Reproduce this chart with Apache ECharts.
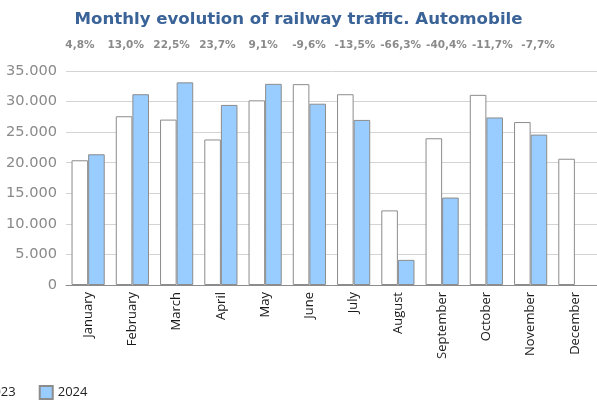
<!DOCTYPE html>
<html>
<head>
<meta charset="utf-8">
<script src="https://cdn.jsdelivr.net/npm/echarts@6/dist/echarts.min.js"></script>
<style>
  html, body { margin: 0; padding: 0; background: #fff; }
  #chart { width: 597px; height: 400px; }
</style>
</head>
<body>
<div id="chart"></div>
<script>
const months = ['January', 'February', 'March', 'April', 'May', 'June', 'July',
  'August', 'September', 'October', 'November', 'December'];
const changes = ['4,8%', '13,0%', '22,5%', '23,7%', '9,1%', '-9,6%', '-13,5%',
  '-66,3%', '-40,4%', '-11,7%', '-7,7%'];
const traffic2023 = [20400, 27600, 27050, 23800, 30200, 32850, 31200, 12200, 24000, 31100, 26650, 20650];
const traffic2024 = [21380, 31200, 33140, 29450, 32900, 29650, 27000, 4110, 14300, 27400, 24600, null];

// 35.000 style thousands
function fmt(v) {
  return String(v).replace(/\B(?=(\d{3})+(?!\d))/g, '.');
}

const chart = echarts.init(document.getElementById('chart'));

chart.setOption({
  animation: false,
  title: {
    text: 'Monthly evolution of railway traffic. Automobile',
    left: 'center',
    top: 6,
    textStyle: {
      fontFamily: 'DejaVu Sans',
      fontWeight: 'bold',
      fontSize: 16.6,
      color: '#3a6398'
    }
  },
  legend: {
    bottom: -5,
    left: -38,
    icon: 'rect',
    itemWidth: 13,
    itemHeight: 13,
    itemGap: 23,
    textStyle: {
      fontFamily: 'Open Sans',
      fontSize: 13,
      color: '#222'
    }
  },
  grid: [
    { left: 66, right: -1, top: 71, bottom: 115 },
    // percent row has its own spacing
    { left: 57, width: 504, top: 71, bottom: 115 }
  ],
  xAxis: [
    {
      type: 'category',
      data: months,
      axisLine: { lineStyle: { color: '#8c8c8c' } },
      axisTick: { show: false },
      axisLabel: {
        rotate: 90,
        interval: 0,
        margin: 7,
        fontFamily: 'Open Sans',
        fontSize: 13,
        color: '#1a1a1a'
      }
    },
    {
      type: 'category',
      gridIndex: 1,
      position: 'top',
      data: changes,
      axisLine: { show: false },
      axisTick: { show: false },
      axisLabel: {
        interval: 0,
        margin: 20,
        fontFamily: 'DejaVu Sans',
        fontWeight: 'bold',
        fontSize: 10.5,
        color: '#8a8a8a'
      }
    }
  ],
  yAxis: [
    {
      type: 'value',
      min: 0,
      max: 35000,
      interval: 5000,
      axisLine: { show: false },
      axisTick: { show: false },
      splitLine: { lineStyle: { color: '#d4d4d4' } },
      axisLabel: {
        margin: 9,
        fontFamily: 'DejaVu Sans',
        fontSize: 14.6,
        color: '#8a8a8a',
        formatter: fmt
      }
    },
    { type: 'value', gridIndex: 1, show: false }
  ],
  series: [
    {
      name: '2023',
      type: 'bar',
      data: traffic2023,
      barGap: '0%',
      barCategoryGap: '25%',
      itemStyle: { color: '#ffffff', borderColor: '#8c8c8c', borderWidth: 1 }
    },
    {
      name: '2024',
      type: 'bar',
      data: traffic2024,
      barGap: '0%',
      barCategoryGap: '25%',
      itemStyle: { color: '#99ccff', borderColor: '#8c8c8c', borderWidth: 1 }
    }
  ]
});
</script>
</body>
</html>
